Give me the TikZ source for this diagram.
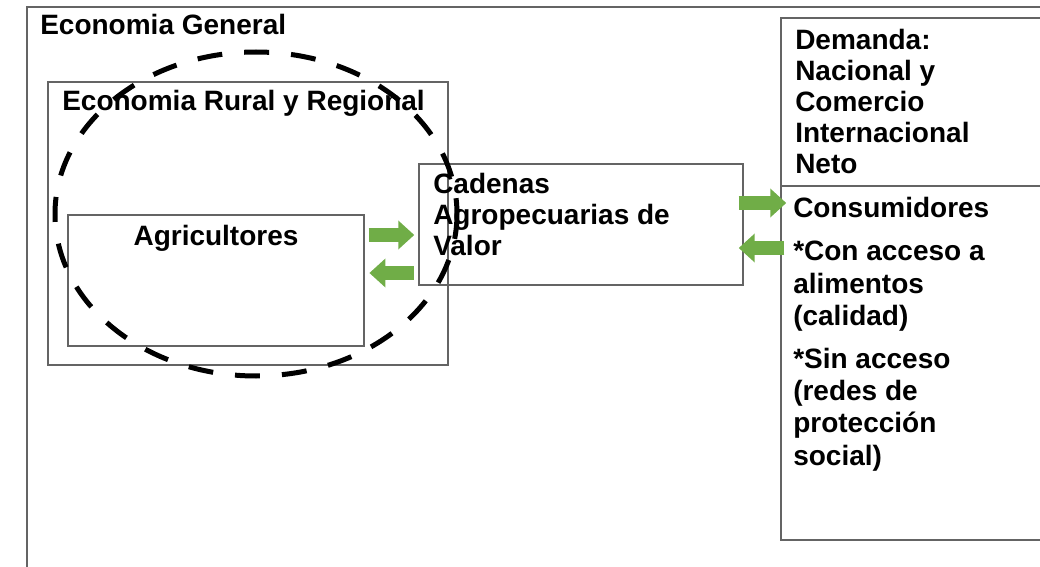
\documentclass[tikz,border=0pt]{standalone}
\usepackage{fontspec}
\setmainfont{Liberation Sans}
\usetikzlibrary{arrows.meta,fit}

\definecolor{grislinea}{RGB}{100,100,100}
\definecolor{verdeflecha}{RGB}{112,173,71}

\tikzset{
  caja/.style={draw=grislinea, line width=1.1pt, inner sep=0pt, rectangle},
  texto/.style={inner sep=0pt, align=left, font=\bfseries\fontsize{21}{23.25}\selectfont},
  textocons/.style={inner sep=0pt, align=left, font=\bfseries\fontsize{21}{24.2}\selectfont},
  titulo/.style={inner sep=0pt, anchor=base west, font=\bfseries\fontsize{21}{23}\selectfont},
  flecha/.style={draw=verdeflecha, line width=10pt, -{Triangle[length=12pt,width=21pt]}},
  ovalo/.style={draw=black, line width=3.75pt, dash pattern=on 18.75pt off 16.5pt}
}

\begin{document}
\begin{tikzpicture}[x=0.75pt,y=0.75pt,yscale=-1,xscale=1]
\useasboundingbox (0,0) rectangle (1040,567);
\clip (0,0) rectangle (1040,567);

%Shape: Rectangle [Economia General]
\node[caja, fit={(27,7) (1100,620)}] (general) {};
%Shape: Rectangle [Economia Rural y Regional]
\node[caja, fit={(48,82) (448,365)}] (rural) {};
%Shape: Rectangle [Agricultores]
\node[caja, fit={(68,215) (364,346)}] (agri) {};
%Shape: Rectangle [Cadenas]
\node[caja, fit={(419,164) (743,285)}] (cad) {};
%Shape: Rectangle [Demanda]
\node[caja, fit={(781,18) (1100,186)}] (dem) {};
%Shape: Rectangle [Consumidores]
\node[caja, fit={(781,186) (1100,540)}] (cons) {};

% Text Node
\node[titulo] (tgeneral) at (40,35) {Economia General};
% Text Node
\node[texto, anchor=base west] (trural) at (62,111) {Economia Rural y Regional};
% Text Node
\node[texto, anchor=base] (tagri) at (216,245) {Agricultores};
% Text Node
\node[texto, anchor=north west] (tcad) at (433,172) {\strut Cadenas\\Agropecuarias de\\Valor};
% Text Node
\node[texto, anchor=north west] (tdem) at (795,28) {\strut Demanda:\\Nacional y\\Comercio\\Internacional\\Neto};
% Text Node
\node[textocons, anchor=north west] (tcons) at (793,195) {\strut Consumidores\\[8pt]*Con acceso a\\alimentos\\(calidad)\\[8pt]*Sin acceso\\(redes de\\protección\\social)};

%Straight Lines [arrows]
\coordinate (ya) at (0,235);
\coordinate (yb) at (0,273);
\coordinate (yc) at (0,203);
\coordinate (yd) at (0,248);
\draw[flecha, shorten <=3pt, shorten >=3pt] (agri.east |- ya) -- (cad.west |- ya);
\draw[flecha, shorten <=3.5pt, shorten >=3.5pt] (cad.west |- yb) -- (agri.east |- yb);
\draw[flecha, shorten <=-3.75pt, shorten >=-4.5pt] (cad.east |- yc) -- (cons.west |- yc);
\draw[flecha, shorten <=-3pt, shorten >=-3.75pt] (cons.west |- yd) -- (cad.east |- yd);

%Shape: Ellipse [dashed]
\draw[ovalo] (256,214) ellipse [x radius=201, y radius=162];

\end{tikzpicture}
\end{document}
